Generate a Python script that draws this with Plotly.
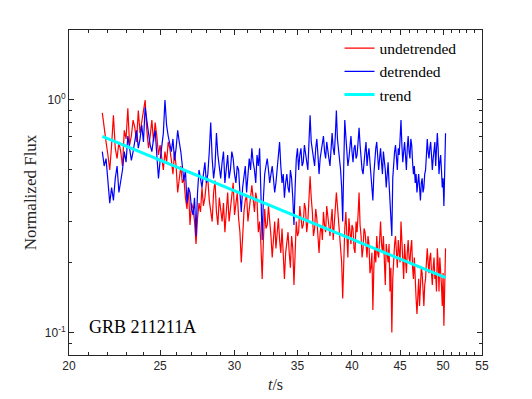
import numpy as np
import plotly.graph_objects as go

# Light curve of GRB 211211A, 0.1 s bins
t_start, t_step = 21.7, 0.1

undetrended = [
    0.88, 0.74, 0.66, 0.58, 0.50, 0.64, 0.86, 0.62, 0.56, 0.66,
    0.60, 0.52, 0.74, 0.68, 0.92, 0.64, 0.70, 0.82, 0.76, 0.66,
    0.90, 0.72, 0.80, 0.88, 1.00, 0.74, 0.62, 0.70, 0.82, 0.66,
    0.80, 0.70, 0.58, 0.64, 0.55, 0.50, 0.60, 0.54, 0.66, 0.62,
    0.55, 0.48, 0.60, 0.52, 0.40, 0.46, 0.52, 0.44, 0.46, 0.38,
    0.34, 0.42, 0.29, 0.36, 0.34, 0.30, 0.24, 0.31, 0.36, 0.33,
    0.42, 0.35, 0.38, 0.44, 0.46, 0.37, 0.34, 0.30, 0.40, 0.45,
    0.33, 0.29, 0.38, 0.34, 0.30, 0.36, 0.27, 0.33, 0.40, 0.30,
    0.34, 0.38, 0.44, 0.32, 0.36, 0.40, 0.31, 0.27, 0.20, 0.28,
    0.33, 0.37, 0.39, 0.30, 0.35, 0.38, 0.43, 0.36, 0.33, 0.40,
    0.37, 0.27, 0.30, 0.24, 0.17, 0.25, 0.34, 0.28, 0.29, 0.35,
    0.31, 0.26, 0.21, 0.25, 0.30, 0.23, 0.27, 0.31, 0.25, 0.22,
    0.28, 0.21, 0.17, 0.22, 0.24, 0.27, 0.22, 0.19, 0.26, 0.23,
    0.16, 0.25, 0.30, 0.26, 0.27, 0.35, 0.32, 0.28, 0.29, 0.36,
    0.34, 0.27, 0.30, 0.36, 0.47, 0.38, 0.33, 0.26, 0.28, 0.34,
    0.31, 0.26, 0.22, 0.27, 0.29, 0.25, 0.33, 0.29, 0.27, 0.35,
    0.31, 0.28, 0.26, 0.30, 0.34, 0.25, 0.29, 0.33, 0.40, 0.35,
    0.30, 0.26, 0.24, 0.20, 0.14, 0.23, 0.28, 0.33, 0.25, 0.21,
    0.31, 0.27, 0.24, 0.29, 0.28, 0.23, 0.22, 0.30, 0.27, 0.32,
    0.40, 0.29, 0.26, 0.21, 0.23, 0.28, 0.27, 0.24, 0.21, 0.26,
    0.24, 0.18, 0.19, 0.22, 0.125, 0.19, 0.23, 0.20, 0.26, 0.22,
    0.21, 0.25, 0.30, 0.24, 0.22, 0.26, 0.19, 0.16, 0.24, 0.21,
    0.20, 0.24, 0.15, 0.19, 0.10, 0.17, 0.21, 0.24, 0.26, 0.22,
    0.19, 0.25, 0.23, 0.20, 0.30, 0.25, 0.20, 0.17, 0.24, 0.21,
    0.18, 0.22, 0.25, 0.21, 0.20, 0.23, 0.25, 0.19, 0.17, 0.21,
    0.16, 0.14, 0.12, 0.15, 0.17, 0.13, 0.15, 0.19, 0.18, 0.15,
    0.13, 0.16, 0.17, 0.20, 0.23, 0.20, 0.18, 0.21, 0.22, 0.18,
    0.16, 0.19, 0.21, 0.17, 0.18, 0.15, 0.23, 0.20, 0.15, 0.21,
    0.19, 0.16, 0.13, 0.18, 0.107, 0.16, 0.23,
]

detrended = [
    0.60, 0.52, 0.56, 0.44, 0.36, 0.42, 0.37, 0.46, 0.52, 0.40,
    0.44, 0.50, 0.60, 0.54, 0.70, 0.62, 0.55, 0.60, 0.66, 0.74,
    0.62, 0.68, 0.78, 0.66, 0.93, 0.80, 0.72, 0.64, 0.60, 0.68,
    0.74, 0.58, 0.46, 0.55, 0.62, 0.72, 1.00, 0.78, 0.70, 0.64,
    0.60, 0.68, 0.55, 0.62, 0.74, 0.66, 0.60, 0.52, 0.45, 0.50,
    0.36, 0.42, 0.40, 0.34, 0.32, 0.38, 0.26, 0.40, 0.50, 0.46,
    0.42, 0.48, 0.54, 0.44, 0.48, 0.60, 0.80, 0.56, 0.46, 0.52,
    0.72, 0.58, 0.50, 0.46, 0.54, 0.60, 0.44, 0.50, 0.58, 0.46,
    0.50, 0.60, 0.56, 0.48, 0.44, 0.52, 0.50, 0.40, 0.33, 0.42,
    0.46, 0.52, 0.40, 0.48, 0.56, 0.50, 0.62, 0.54, 0.50, 0.44,
    0.58, 0.52, 0.62, 0.40, 0.25, 0.38, 0.48, 0.52, 0.56, 0.50,
    0.44, 0.48, 0.52, 0.46, 0.40, 0.44, 0.50, 0.56, 0.66, 0.52,
    0.44, 0.48, 0.38, 0.44, 0.48, 0.42, 0.40, 0.50, 0.46, 0.38,
    0.29, 0.42, 0.56, 0.62, 0.50, 0.58, 0.62, 0.52, 0.54, 0.64,
    0.58, 0.52, 0.50, 0.66, 0.86, 0.66, 0.60, 0.56, 0.52, 0.62,
    0.68, 0.58, 0.48, 0.56, 0.60, 0.66, 0.70, 0.60, 0.56, 0.66,
    0.62, 0.56, 0.52, 0.64, 0.72, 0.62, 0.58, 0.70, 0.90, 0.68,
    0.62, 0.56, 0.50, 0.42, 0.30, 0.52, 0.82, 0.70, 0.62, 0.52,
    0.56, 0.64, 0.70, 0.60, 0.54, 0.62, 0.64, 0.56, 0.58, 0.66,
    0.76, 0.64, 0.56, 0.50, 0.48, 0.56, 0.60, 0.66, 0.52, 0.58,
    0.62, 0.54, 0.46, 0.42, 0.37, 0.48, 0.56, 0.62, 0.66, 0.58,
    0.50, 0.56, 0.62, 0.54, 0.48, 0.60, 0.56, 0.50, 0.42, 0.48,
    0.54, 0.44, 0.35, 0.30, 0.26, 0.46, 0.56, 0.60, 0.64, 0.56,
    0.50, 0.62, 0.58, 0.68, 0.82, 0.64, 0.54, 0.60, 0.66, 0.58,
    0.50, 0.62, 0.70, 0.60, 0.56, 0.68, 0.64, 0.54, 0.48, 0.52,
    0.44, 0.48, 0.40, 0.44, 0.48, 0.42, 0.37, 0.44, 0.46, 0.40,
    0.42, 0.48, 0.50, 0.58, 0.68, 0.60, 0.56, 0.62, 0.66, 0.58,
    0.50, 0.56, 0.60, 0.66, 0.52, 0.60, 0.72, 0.62, 0.48, 0.54,
    0.58, 0.50, 0.42, 0.46, 0.35, 0.50, 0.72,
]

# power-law trend, end points only (straight on log-log axes)
trend_t = [21.7, 50.3]
trend_flux = [0.698, 0.172]

x_ticks = [20, 25, 30, 35, 40, 45, 50, 55]
x_minor = [v for v in range(21, 55) if v % 5]
y_ticks = [0.1, 1]
y_ticktext = ["10<sup>-1</sup>", "10<sup>0</sup>"]
y_minor = [0.09, 0.2, 0.3, 0.4, 0.5, 0.6, 0.7, 0.8, 0.9, 2]

t_und = t_start + t_step * np.arange(len(undetrended))
t_det = t_start + t_step * np.arange(len(detrended))

serif = "Liberation Serif"
sans = "Liberation Sans"
axcol = "#262626"

fig = go.Figure()
fig.add_trace(go.Scatter(x=t_und, y=undetrended, mode="lines", name="undetrended",
                         line=dict(color="#ff0000", width=1.2)))
fig.add_trace(go.Scatter(x=t_det, y=detrended, mode="lines", name="detrended",
                         line=dict(color="#0000ff", width=1.2)))
fig.add_trace(go.Scatter(x=trend_t, y=trend_flux, mode="lines", name="trend",
                         line=dict(color="#00ffff", width=3)))

axis_common = dict(
    type="log", showgrid=False, zeroline=False, automargin=False,
    showline=True, linecolor=axcol, linewidth=1, mirror="ticks",
    ticks="inside", ticklen=5, tickcolor=axcol,
    tickfont=dict(family=sans, size=12, color=axcol),
)

fig.update_xaxes(
    **axis_common,
    range=[np.log10(20), np.log10(55)],
    tickmode="array", tickvals=x_ticks, ticktext=[str(v) for v in x_ticks],
    minor=dict(tickmode="array", tickvals=x_minor, ticks="inside", ticklen=3, tickcolor=axcol),
    title=dict(text="<i>t</i>/s", font=dict(family=serif, size=16, color=axcol), standoff=6),
)
fig.update_yaxes(
    **axis_common,
    range=[np.log10(0.08), np.log10(2)],
    tickmode="array", tickvals=y_ticks, ticktext=y_ticktext,
    minor=dict(tickmode="array", tickvals=y_minor, ticks="inside", ticklen=3, tickcolor=axcol),
    title=dict(text="Normalized Flux", font=dict(family=serif, size=17, color=axcol), standoff=3),
)

fig.add_annotation(text="GRB 211211A", xref="paper", yref="paper", x=0.043, y=0.085,
                   xanchor="left", yanchor="middle", showarrow=False,
                   font=dict(family=serif, size=18, color="black"))

# the page has an 8 px body margin, so the figure is drawn 8 px smaller
fig.update_layout(
    width=524, height=391,
    margin=dict(l=61, r=50, t=22, b=44),
    paper_bgcolor="white", plot_bgcolor="white",
    legend=dict(x=0.655, y=0.995, xanchor="left", yanchor="top",
                bgcolor="rgba(0,0,0,0)", font=dict(family=serif, size=15.5, color="black"),
                tracegroupgap=0, itemwidth=30),
    showlegend=True,
)

fig.write_html("out.html")
